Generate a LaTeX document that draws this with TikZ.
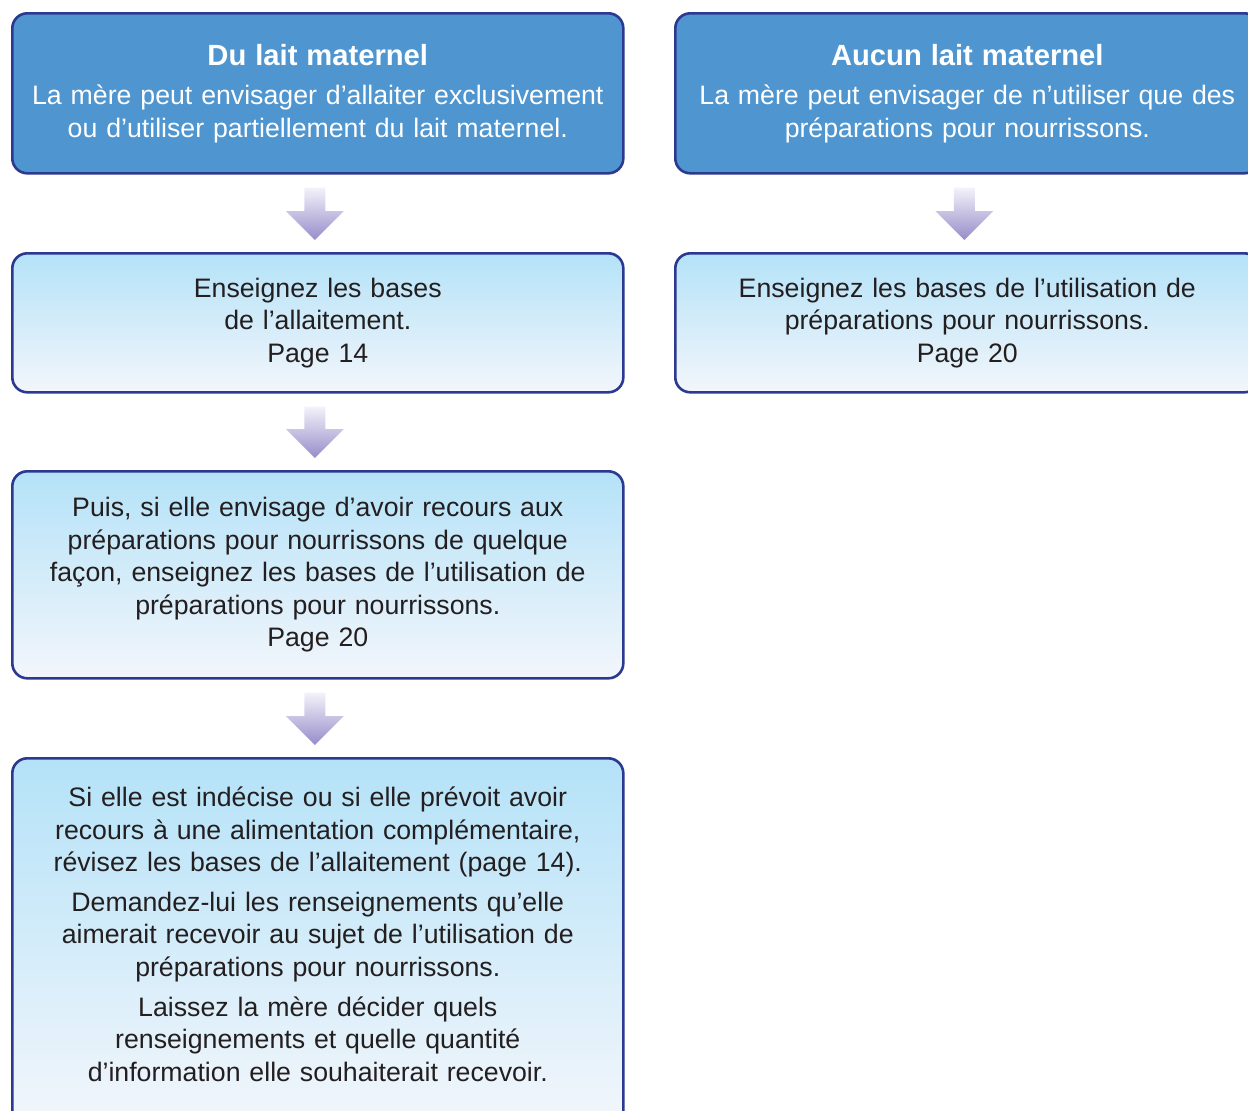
\documentclass[tikz,border=0pt]{standalone}
\usepackage{fontspec}
\setmainfont{Liberation Sans}
\usetikzlibrary{calc}

\definecolor{headfill}{HTML}{4F96D0}
\definecolor{edge}{HTML}{2B3990}
\definecolor{lighttop}{HTML}{B4E2F8}
\definecolor{lightbot}{HTML}{F3F6FB}
\definecolor{arrtop}{HTML}{F4F2FA}
\definecolor{arrbot}{HTML}{968CCA}
\definecolor{ink}{HTML}{231F20}

\tikzset{
  box/.style={draw=edge, line width=2.6pt, rounded corners=15pt, anchor=north west,
    minimum width=611pt, inner sep=0pt, align=center, text width=600pt,
    font=\fontsize{26.7}{32.4}\selectfont},
  headbox/.style={box, fill=headfill, text=white},
  stepbox/.style={box, top color=lighttop, bottom color=lightbot, text=ink},
  flowshade/.style={top color=arrtop, bottom color=arrbot, draw=none},
}

% block arrow between two stacked boxes
\newcommand\flowarrow[2]{%
  \shade[flowshade]
    let \p1=($(#1.south)+(-3,13)$), \p2=($(#2.north)+(-3,-12)$) in
    (\x1-10.5pt,\y1) -- (\x1+10.5pt,\y1) -- (\x1+10.5pt,\y2+29pt) --
    (\x1+29pt,\y2+29pt) -- (\x1,\y2) -- (\x1-29pt,\y2+29pt) --
    (\x1-10.5pt,\y2+29pt) -- cycle;}

\newcommand\titleline[1]{{\fontsize{29.2}{34}\selectfont\bfseries #1}}

\begin{document}
\begin{tikzpicture}[x=1pt, y=-1pt]
\useasboundingbox (0,0) rectangle (1248,1111);
\clip (0,0) rectangle (1248,1111);

\node[headbox, minimum height=160pt] (lait) at (11,12)
  {\titleline{Du lait maternel}\\[7pt]
   La mère peut envisager d’allaiter exclusivement\\
   ou d’utiliser partiellement du lait maternel.};

\node[headbox, minimum height=160pt, minimum width=584pt, text width=580pt] (aucun) at (674,12)
  {\titleline{Aucun lait maternel}\\[7pt]
   La mère peut envisager de n’utiliser que des\\
   préparations pour nourrissons.};

\node[stepbox, minimum height=139pt] (bases) at (11,252)
  {Enseignez les bases\\ de l’allaitement.\\ Page 14};

\node[stepbox, minimum height=139pt, minimum width=584pt, text width=580pt] (prep) at (674,252)
  {Enseignez les bases de l’utilisation de\\ préparations pour nourrissons.\\ Page 20};

\node[stepbox, minimum height=207pt] (puis) at (11,470)
  {Puis, si elle envisage d’avoir recours aux\\
   préparations pour nourrissons de quelque\\
   façon, enseignez les bases de l’utilisation de\\
   préparations pour nourrissons.\\ Page 20};

\node[stepbox, minimum height=368pt] (indecise) at (11,757)
  {Si elle est indécise ou si elle prévoit avoir\\
   recours à une alimentation complémentaire,\\
   révisez les bases de l’allaitement (page 14).\\[7.5pt]
   Demandez-lui les renseignements qu’elle\\
   aimerait recevoir au sujet de l’utilisation de\\
   préparations pour nourrissons.\\[7.5pt]
   Laissez la mère décider quels\\
   renseignements et quelle quantité\\
   d’information elle souhaiterait recevoir.\\[-16pt]\mbox{}};

\flowarrow{lait}{bases}
\flowarrow{bases}{puis}
\flowarrow{puis}{indecise}
\flowarrow{aucun}{prep}
\end{tikzpicture}
\end{document}
